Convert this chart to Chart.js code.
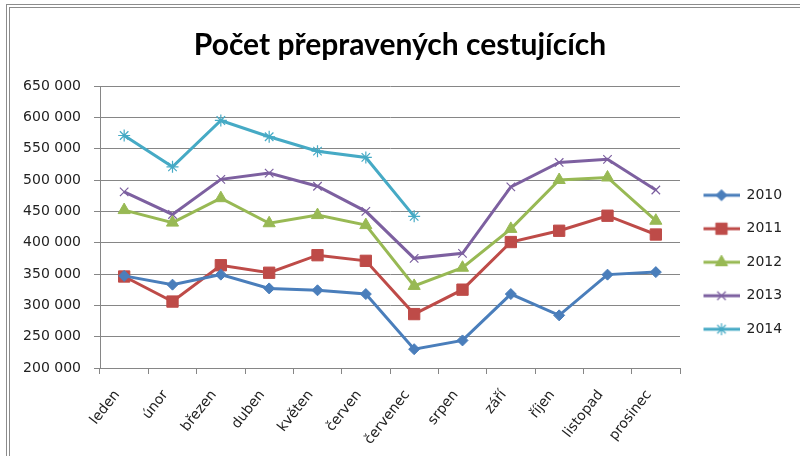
<!DOCTYPE html>
<html>
<head>
<meta charset="utf-8">
<script src="https://cdn.jsdelivr.net/npm/chart.js@4/dist/chart.umd.min.js"></script>
<style>
  html, body { margin: 0; padding: 0; background: #fff; }
  #wrap { position: relative; width: 800px; height: 456px; overflow: hidden; }
  #frame { position: absolute; left: 6px; top: 4px; width: 820px; height: 480px; border: 4px double #8c8c8c; box-sizing: border-box; pointer-events: none; }
  canvas { position: absolute; left: 0; top: 0; }
</style>
</head>
<body>
<div id="wrap">
  <canvas id="c" width="800" height="456"></canvas>
  <div id="frame"></div>
</div>
<script>
const categories = ['leden', 'únor', 'březen', 'duben', 'květen', 'červen', 'červenec', 'srpen', 'září', 'říjen', 'listopad', 'prosinec'];
const seriesNames = ['2010', '2011', '2012', '2013', '2014'];
const values2010 = [347000, 333000, 349000, 327000, 324000, 318000, 230000, 244000, 318000, 284000, 349000, 353000];
const values2011 = [346000, 306000, 364000, 352000, 380000, 371000, 286000, 325000, 401000, 419000, 443000, 413000];
const values2012 = [452000, 432000, 471000, 431000, 444000, 428000, 331000, 360000, 422000, 500000, 504000, 435000];
const values2013 = [481000, 445000, 501000, 511000, 490000, 450000, 375000, 383000, 489000, 528000, 533000, 484000];
const values2014 = [571000, 521000, 595000, 569000, 546000, 536000, 442000, null, null, null, null, null];
const yTicks = [200000, 250000, 300000, 350000, 400000, 450000, 500000, 550000, 600000, 650000];
const titleText = 'Počet přepravených cestujících';

const colors = ['#4A7EBB', '#BE4B48', '#98B954', '#7D60A0', '#46AAC5'];
const styles = [
  { pointStyle: 'rectRot', radius: 5.5, bw: 1 },
  { pointStyle: 'rect', radius: 8, bw: 1 },
  { pointStyle: 'triangle', radius: 7, bw: 1 },
  { pointStyle: 'crossRot', radius: 6, bw: 1.2 },
  { pointStyle: 'star', radius: 6, bw: 1.2 }
];
const allValues = [values2010, values2011, values2012, values2013, values2014];
const tickFont = { family: 'DejaVu Sans', size: 14 };

function legendImage(color, st) {
  const cv = document.createElement('canvas');
  cv.width = 40; cv.height = 16;
  const ctx = cv.getContext('2d');
  ctx.strokeStyle = color; ctx.lineWidth = 3;
  ctx.beginPath(); ctx.moveTo(4, 8); ctx.lineTo(40, 8); ctx.stroke();
  ctx.fillStyle = color; ctx.strokeStyle = color; ctx.lineWidth = st.bw;
  Chart.helpers.drawPoint(ctx, { pointStyle: st.pointStyle, radius: st.radius, borderWidth: st.bw, rotation: 0 }, 22, 8);
  return cv;
}

const datasets = seriesNames.map((name, i) => ({
  label: name,
  data: allValues[i],
  borderColor: colors[i],
  backgroundColor: colors[i],
  borderWidth: 3,
  pointStyle: styles[i].pointStyle,
  pointRadius: styles[i].radius,
  pointBorderWidth: styles[i].bw,
  pointBackgroundColor: colors[i],
  pointBorderColor: colors[i],
  tension: 0,
  spanGaps: false
}));

const fmt = v => String(v).replace(/\B(?=(\d{3})+(?!\d))/g, '\u00a0');

const fixLegend = {
  id: 'fixLegend',
  afterInit(chart) {
    const lg = chart.legend;
    if (lg && lg.fit) {
      const f = lg.fit.bind(lg);
      lg.fit = function () { f(); this.width = 120; };
    }
  }
};

new Chart(document.getElementById('c'), {
  type: 'line',
  data: { labels: categories, datasets },
  plugins: [fixLegend],
  options: {
    responsive: false,
    animation: false,
    layout: { padding: { left: 0, right: 0, top: 0, bottom: 0 } },
    plugins: {
      title: {
        display: true,
        text: titleText,
        color: '#000',
        font: { family: 'Lato', size: 30, weight: 'bold' },
        padding: { top: 27, bottom: 23 }
      },
      legend: {
        position: 'right',
        align: 'center',
        title: { display: true, text: '', padding: { top: 54, bottom: 0 } },
        labels: {
          usePointStyle: true,
          pointStyleWidth: 40,
          padding: 19.5,
          color: '#222',
          font: { family: 'DejaVu Sans', size: 14 },
          generateLabels(chart) {
            return chart.data.datasets.map((ds, i) => ({
              text: ds.label,
              datasetIndex: i,
              pointStyle: legendImage(colors[i], styles[i]),
              fillStyle: colors[i],
              strokeStyle: colors[i],
              lineWidth: 0,
              fontColor: '#222',
              hidden: false
            }));
          }
        }
      },
      tooltip: { enabled: false }
    },
    scales: {
      x: {
        offset: true,
        grid: { display: true, drawOnChartArea: false, drawTicks: true, tickLength: 6, offset: true, color: '#868686' },
        border: { color: '#868686', width: 1 },
        ticks: { minRotation: 52, maxRotation: 52, color: '#222', font: tickFont, padding: 13, labelOffset: -7, autoSkip: false },
        afterFit(scale) { scale.height = 88; }
      },
      y: {
        min: 200000,
        max: 650000,
        afterBuildTicks(scale) { scale.ticks = yTicks.map(v => ({ value: v })); },
        grid: { color: '#868686', lineWidth: 1, drawTicks: true, tickLength: 6 },
        border: { color: '#868686', width: 1 },
        ticks: { color: '#222', font: tickFont, padding: 13, callback: v => fmt(v) },
        afterFit(scale) { scale.width = 100; }
      }
    }
  }
});
</script>
</body>
</html>
